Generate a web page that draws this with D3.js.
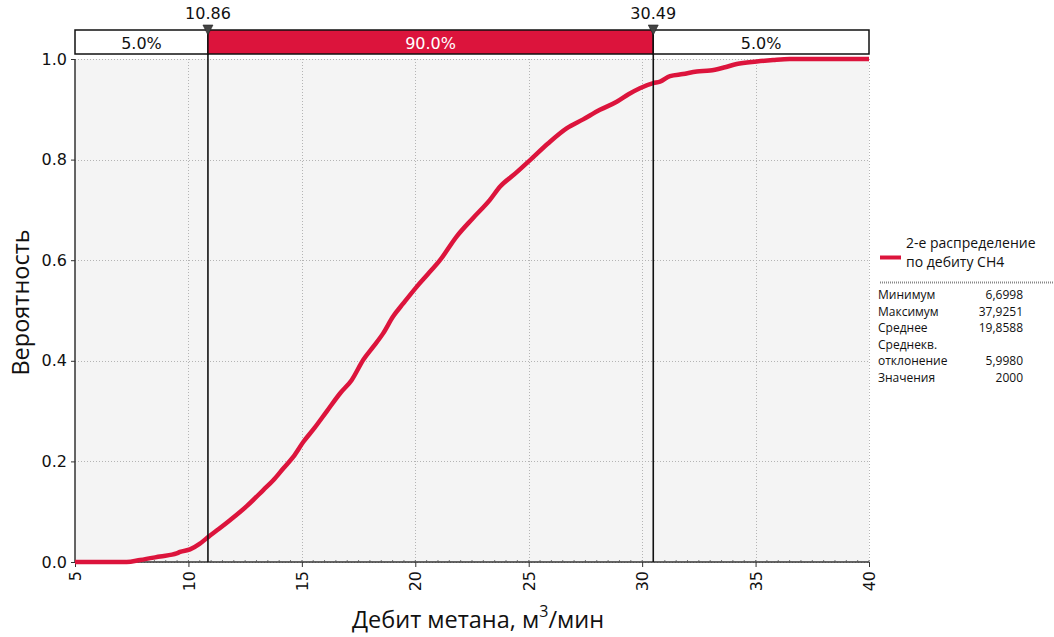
<!DOCTYPE html>
<html>
<head>
<meta charset="utf-8">
<script src="https://cdn.jsdelivr.net/npm/d3@7"></script>
<style>
  html, body { margin: 0; padding: 0; background: #ffffff; }
  svg { display: block; }
</style>
</head>
<body>
<svg id="chart" width="1054" height="637"></svg>
<script>
// Cumulative distribution of methane flow (m3/min)
const flowValues = [5, 6.70, 7.28, 7.87, 8.75, 9.48, 9.63, 10.07, 10.49, 10.88, 11.35, 11.83, 12.57, 13.30, 13.75,
  14.18, 14.62, 15.07, 15.55, 16.09, 16.68, 17.20, 17.71, 18.15, 18.59, 19.02, 19.47, 20.06, 20.55, 21.09,
  21.82, 22.55, 23.29, 23.73, 24.40, 25.06, 25.85, 26.67, 27.40, 28.14, 28.88, 29.40, 29.90, 30.49,
  30.79, 31.23, 31.80, 32.41, 32.99, 33.60, 34.17, 35.05, 35.77, 36.50, 37.93, 40];
const cumulativeProb = [0, 0, 0, 0.004, 0.011, 0.017, 0.020, 0.025, 0.036, 0.050, 0.066, 0.083, 0.111, 0.143, 0.163,
  0.186, 0.209, 0.239, 0.266, 0.299, 0.335, 0.362, 0.402, 0.428, 0.455, 0.488, 0.514, 0.547, 0.572, 0.600,
  0.647, 0.684, 0.720, 0.746, 0.772, 0.799, 0.832, 0.862, 0.880, 0.899, 0.915, 0.930, 0.942, 0.952,
  0.955, 0.966, 0.970, 0.975, 0.977, 0.983, 0.990, 0.995, 0.998, 1.0, 1.0, 1.0];

const xTicks = [5, 10, 15, 20, 25, 30, 35, 40];
const yTicks = [0, 0.2, 0.4, 0.6, 0.8, 1.0];

// Delimiters and the share of values in each band
const delimiters = [10.86, 30.49];
const bandShares = ["5.0%", "90.0%", "5.0%"];

// Legend and summary statistics
const seriesName = ["2-е распределение", "по дебиту CH4"];
const statLabels = ["Минимум", "Максимум", "Среднее", "Среднекв.", "отклонение", "Значения"];
const statValues = ["6,6998", "37,9251", "19,8588", "", "5,9980", "2000"];

const RED = "#dc143c";
const svg = d3.select("#chart");
const plot = { left: 75, right: 869, top: 59, bottom: 562 };

const x = d3.scaleLinear().domain([5, 40]).range([plot.left, plot.right]);
const y = d3.scaleLinear().domain([0, 1]).range([plot.bottom, plot.top]);

// Plot background
svg.append("rect")
  .attr("x", plot.left).attr("y", plot.top)
  .attr("width", plot.right - plot.left).attr("height", plot.bottom - plot.top)
  .attr("fill", "#f4f4f4");

// Dotted grid
const grid = svg.append("g").attr("stroke", "#b4b4b4").attr("stroke-width", 1)
  .attr("stroke-dasharray", "1,2");
grid.selectAll("line.gx").data(xTicks.slice(1)).join("line")
  .attr("x1", d => Math.round(x(d)) + 0.5).attr("x2", d => Math.round(x(d)) + 0.5)
  .attr("y1", plot.top).attr("y2", plot.bottom);
grid.selectAll("line.gy").data(yTicks).join("line")
  .attr("x1", plot.left).attr("x2", plot.right)
  .attr("y1", d => Math.round(y(d)) + 0.5).attr("y2", d => Math.round(y(d)) + 0.5);

// Axes
const tickFont = "'DejaVu Sans', Verdana, sans-serif";
const yAxis = svg.append("g").attr("transform", `translate(${plot.left},0)`)
  .call(d3.axisLeft(y).tickValues(yTicks).tickFormat(d3.format(".1f")).tickSize(4).tickPadding(4));
const xAxis = svg.append("g").attr("transform", `translate(0,${plot.bottom})`)
  .call(d3.axisBottom(x).tickValues(xTicks).tickFormat(d3.format("d")).tickSize(5).tickPadding(4));

[yAxis, xAxis].forEach(g => {
  g.select(".domain").attr("stroke", "#333").attr("stroke-width", 1.5);
  g.selectAll(".tick line").attr("stroke", "#333");
  g.selectAll("text").attr("font-family", tickFont).attr("font-size", 16).attr("fill", "#111");
});
yAxis.select(".domain").attr("d", `M0,${plot.top}V${plot.bottom}`);
xAxis.select(".domain").attr("d", `M${plot.left},0H${plot.right}`);
xAxis.selectAll(".tick text")
  .attr("transform", "rotate(-90)")
  .attr("text-anchor", "end")
  .attr("x", -9).attr("y", 0).attr("dy", "0.35em");

// Minor ticks along the bottom axis
const minor = d3.range(5, 40.01, 0.5);
svg.append("g").selectAll("line").data(minor).join("line")
  .attr("x1", d => x(d)).attr("x2", d => x(d))
  .attr("y1", plot.bottom).attr("y2", plot.bottom - 2)
  .attr("stroke", "#555").attr("stroke-width", 0.8);

// Cumulative curve
const pts = flowValues.map((v, i) => [v, cumulativeProb[i]]);
svg.append("path")
  .datum(pts)
  .attr("fill", "none")
  .attr("stroke", RED)
  .attr("stroke-width", 4.5)
  .attr("stroke-linejoin", "round")
  .attr("d", d3.line().x(d => x(d[0])).y(d => y(d[1])).curve(d3.curveMonotoneX));

// Delimiter lines
svg.append("g").selectAll("line").data(delimiters).join("line")
  .attr("x1", d => x(d)).attr("x2", d => x(d))
  .attr("y1", 30).attr("y2", plot.bottom)
  .attr("stroke", "#111").attr("stroke-width", 1.6);

// Band bar above the plot
const barTop = 30, barH = 24;
const edges = [5, ...delimiters, 40];
const bands = bandShares.map((s, i) => ({ s, a: edges[i], b: edges[i + 1], mid: i === 1 }));
const bar = svg.append("g");
bar.selectAll("rect").data(bands).join("rect")
  .attr("x", d => x(d.a)).attr("y", barTop)
  .attr("width", d => x(d.b) - x(d.a)).attr("height", barH)
  .attr("fill", d => d.mid ? RED : "#ffffff")
  .attr("stroke", "#111").attr("stroke-width", 1.5);
bar.selectAll("text").data(bands).join("text")
  .attr("x", d => (x(d.a) + x(d.b)) / 2).attr("y", barTop + barH / 2 + 1)
  .attr("dy", "0.35em").attr("text-anchor", "middle")
  .attr("font-family", tickFont).attr("font-size", 16)
  .attr("fill", d => d.mid ? "#ffffff" : "#111")
  .text(d => d.s);

// Delimiter markers and values
const marks = svg.append("g");
marks.selectAll("path").data(delimiters).join("path")
  .attr("d", d => `M${x(d) - 5},25L${x(d) + 5},25L${x(d)},35Z`)
  .attr("fill", "#444").attr("stroke", "#222").attr("stroke-width", 0.6);
marks.selectAll("text").data(delimiters).join("text")
  .attr("x", d => x(d)).attr("y", 19)
  .attr("text-anchor", "middle")
  .attr("font-family", tickFont).attr("font-size", 16).attr("fill", "#111")
  .text(d => d.toFixed(2));

// Axis titles
const titleFont = "'Open Sans', 'Noto Sans', sans-serif";
svg.append("text")
  .attr("transform", `translate(29,${(plot.top + plot.bottom) / 2 - 8}) rotate(-90)`)
  .attr("text-anchor", "middle")
  .attr("font-family", titleFont).attr("font-size", 23.5).attr("fill", "#111")
  .text("Вероятность");
const xt = svg.append("text")
  .attr("x", (plot.left + plot.right) / 2 + 6).attr("y", 628)
  .attr("text-anchor", "middle")
  .attr("font-family", titleFont).attr("font-size", 23.5).attr("fill", "#111");
xt.append("tspan").text("Дебит метана, м");
xt.append("tspan").attr("dy", -11).attr("font-size", 16).text("3");
xt.append("tspan").attr("dy", 11).text("/мин");

// Legend
const legendFont = "'Open Sans', 'Noto Sans', sans-serif";
svg.append("line")
  .attr("x1", 880).attr("x2", 901).attr("y1", 257.5).attr("y2", 257.5)
  .attr("stroke", RED).attr("stroke-width", 4);
svg.append("g").selectAll("text").data(seriesName).join("text")
  .attr("x", 906).attr("y", (d, i) => 248 + i * 19)
  .attr("font-family", legendFont).attr("font-size", 14).attr("fill", "#111")
  .text(d => d);
svg.append("line")
  .attr("x1", 880).attr("x2", 1054).attr("y1", 282.5).attr("y2", 282.5)
  .attr("stroke", "#888").attr("stroke-width", 2).attr("stroke-dasharray", "1,1");

const stats = svg.append("g").attr("font-family", legendFont).attr("font-size", 12).attr("fill", "#111");
stats.selectAll("text.l").data(statLabels).join("text")
  .attr("class", "l").attr("x", 878).attr("y", (d, i) => 299 + i * 16.5)
  .text(d => d);
stats.selectAll("text.v").data(statValues).join("text")
  .attr("class", "v").attr("x", 1023).attr("y", (d, i) => 299 + i * 16.5)
  .attr("text-anchor", "end")
  .text(d => d);
</script>
</body>
</html>
